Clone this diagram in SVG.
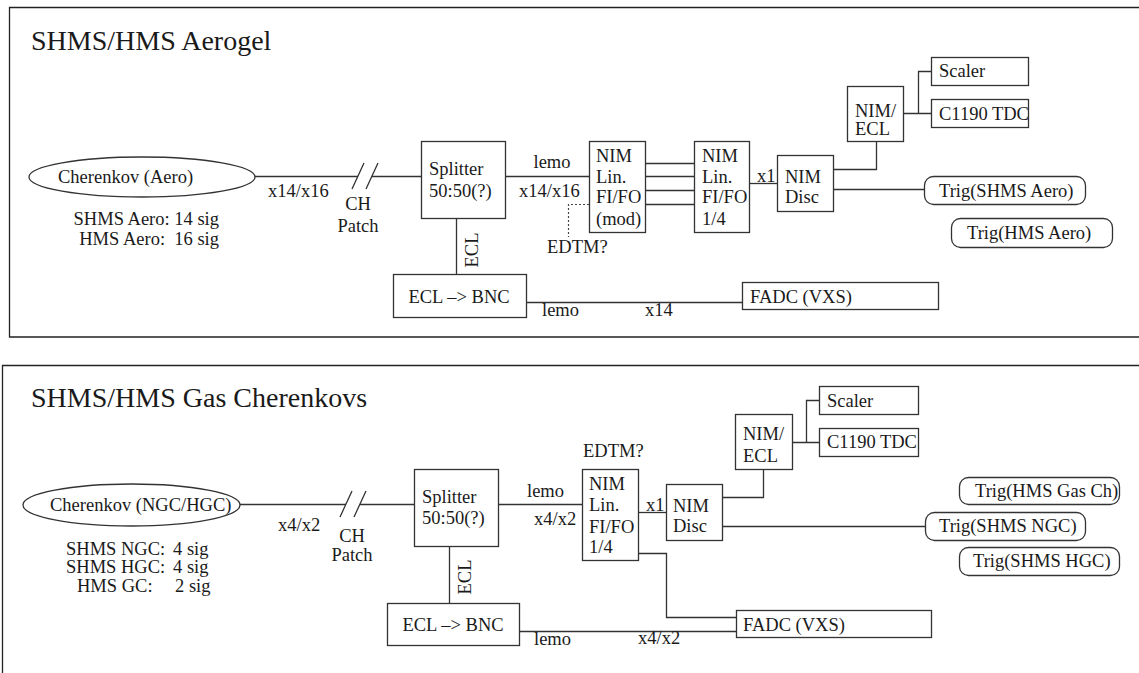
<svg xmlns="http://www.w3.org/2000/svg" width="1139" height="673" viewBox="0 0 1139 673">
<style>
text{font-family:"Liberation Serif","Times New Roman",serif;font-size:18.5px;fill:#1a1a1a}
.t{font-size:28px}
.m{text-anchor:middle}
.e{text-anchor:end}
.b{fill:#fff;stroke:#333;stroke-width:1.3}
.c{fill:none;stroke:#333;stroke-width:1.3}
.d{fill:none;stroke:#444;stroke-width:1.2;stroke-dasharray:2,2}
.f{fill:none;stroke:#222;stroke-width:1.3}
</style>
<rect width="1139" height="673" fill="#fff"/>

<!-- ===== Top panel ===== -->
<g id="panel-aerogel">
<path class="f" d="M1140,7.5 H9.5 V337 H1140"/>
<text class="t" x="31" y="50">SHMS/HMS Aerogel</text>
</g>

<g id="connectors-aerogel">
<path class="c" d="M255,176.5 H358"/>
<path class="c" d="M352,189 L364,163 M366,189 L378,163"/>
<path class="c" d="M372,176.5 H421"/>
<path class="c" d="M505,176.5 H589"/>
<path class="c" d="M645,163.5 H694 M645,176.5 H694 M645,190.5 H694 M645,204.5 H694"/>
<path class="d" d="M589,204.5 H568.5 V237"/>
<path class="c" d="M749,183.5 H777"/>
<path class="c" d="M833,169.5 H876.5 V141"/>
<path class="c" d="M833,189.5 H924"/>
<path class="c" d="M903,113.5 H931 M918.5,113.5 V71.5 H931"/>
<path class="c" d="M456.5,218 V274"/>
<path class="c" d="M526,302.5 H742"/>
<text x="268" y="197">x14/x16</text>
<text class="m" x="358" y="210">CH</text>
<text class="m" x="358" y="232">Patch</text>
<text class="m" x="552" y="168">lemo</text>
<text x="519" y="197">x14/x16</text>
<text x="547" y="253">EDTM?</text>
<text class="m" transform="translate(478,250) rotate(-90)">ECL</text>
<text x="542" y="316">lemo</text>
<text x="645" y="316">x14</text>
<text x="757" y="182">x1</text>
</g>

<g id="aero-cherenkov">
<ellipse class="b" cx="142" cy="177" rx="113" ry="20"/>
<text x="58" y="183">Cherenkov (Aero)</text>
<text class="e" x="219" y="225" xml:space="preserve">SHMS Aero: 14 sig</text>
<text class="e" x="219" y="245" xml:space="preserve">HMS Aero:  16 sig</text>
</g>
<g id="aero-splitter">
<rect class="b" x="421.5" y="141.5" width="84" height="77"/>
<text x="429" y="175">Splitter</text>
<text x="429" y="197">50:50(?)</text>
</g>
<g id="aero-nim-fifo-mod">
<rect class="b" x="589.5" y="141.5" width="56" height="91"/>
<text x="596" y="162">NIM</text>
<text x="596" y="183">Lin.</text>
<text x="596" y="203">FI/FO</text>
<text x="596" y="225">(mod)</text>
</g>
<g id="aero-nim-fifo-quarter">
<rect class="b" x="694.5" y="141.5" width="55" height="91"/>
<text x="702" y="162">NIM</text>
<text x="702" y="183">Lin.</text>
<text x="702" y="203">FI/FO</text>
<text x="702" y="225">1/4</text>
</g>
<g id="aero-nim-disc">
<rect class="b" x="777.5" y="155.5" width="56" height="56"/>
<text x="785" y="183">NIM</text>
<text x="785" y="203">Disc</text>
</g>
<g id="aero-nim-ecl">
<rect class="b" x="847.5" y="86.5" width="56" height="55"/>
<text x="855" y="117">NIM/</text>
<text x="855" y="135">ECL</text>
</g>
<g id="aero-scaler">
<rect class="b" x="931.5" y="57.5" width="97" height="28"/>
<text x="939" y="77">Scaler</text>
</g>
<g id="aero-tdc">
<rect class="b" x="931.5" y="99.5" width="97" height="28"/>
<text x="939" y="120">C1190 TDC</text>
</g>
<g id="aero-trig-shms">
<rect class="b" x="924.5" y="176.5" width="161" height="28" rx="9"/>
<text x="939" y="197">Trig(SHMS Aero)</text>
</g>
<g id="aero-trig-hms">
<rect class="b" x="951.5" y="218.5" width="161" height="29" rx="9"/>
<text x="967" y="239">Trig(HMS Aero)</text>
</g>
<g id="aero-ecl-bnc">
<rect class="b" x="393.5" y="274.5" width="133" height="43"/>
<text class="m" x="459" y="303">ECL –&gt; BNC</text>
</g>
<g id="aero-fadc">
<rect class="b" x="742.5" y="282.5" width="196" height="27"/>
<text x="750" y="303">FADC (VXS)</text>
</g>

<!-- ===== Bottom panel ===== -->
<g id="panel-gas">
<path class="f" d="M1140,365.5 H2.5 V674"/>
<text class="t" x="31" y="407">SHMS/HMS Gas Cherenkovs</text>
</g>

<g id="connectors-gas">
<path class="c" d="M240,504.5 H346"/>
<path class="c" d="M340,517 L352,491 M354,517 L366,491"/>
<path class="c" d="M360,504.5 H414"/>
<path class="c" d="M498,504.5 H582"/>
<path class="c" d="M638,512.5 H666"/>
<path class="c" d="M722,497.5 H763.5 V469"/>
<path class="c" d="M792,442.5 H819 M806.5,442.5 V400.5 H819"/>
<path class="c" d="M722,526.5 H925"/>
<path class="c" d="M638,553.5 H666.5 V617.5 H736"/>
<path class="c" d="M449.5,546 V603"/>
<path class="c" d="M519,631.5 H736"/>
<text x="278" y="531">x4/x2</text>
<text class="m" x="352" y="542">CH</text>
<text class="m" x="352" y="561">Patch</text>
<text x="527" y="497">lemo</text>
<text x="534" y="525">x4/x2</text>
<text x="583" y="457">EDTM?</text>
<text x="646" y="511">x1</text>
<text class="m" transform="translate(471,577) rotate(-90)">ECL</text>
<text x="534" y="645">lemo</text>
<text x="638" y="644">x4/x2</text>
</g>

<g id="gas-cherenkov">
<ellipse class="b" cx="131.5" cy="505" rx="108.5" ry="21"/>
<text x="50" y="511">Cherenkov (NGC/HGC)</text>
<text x="66" y="555">SHMS NGC:</text><text x="173" y="555">4 sig</text>
<text x="66" y="573">SHMS HGC:</text><text x="173" y="573">4 sig</text>
<text x="77" y="592">HMS GC:</text><text x="175" y="592">2 sig</text>
</g>
<g id="gas-splitter">
<rect class="b" x="414.5" y="469.5" width="84" height="77"/>
<text x="422" y="503">Splitter</text>
<text x="422" y="524">50:50(?)</text>
</g>
<g id="gas-nim-fifo">
<rect class="b" x="582.5" y="469.5" width="56" height="91"/>
<text x="589" y="490">NIM</text>
<text x="589" y="511">Lin.</text>
<text x="589" y="533">FI/FO</text>
<text x="589" y="553">1/4</text>
</g>
<g id="gas-nim-disc">
<rect class="b" x="666.5" y="484.5" width="56" height="56"/>
<text x="673" y="512">NIM</text>
<text x="673" y="532">Disc</text>
</g>
<g id="gas-nim-ecl">
<rect class="b" x="735.5" y="414.5" width="57" height="55"/>
<text x="743" y="440">NIM/</text>
<text x="743" y="462">ECL</text>
</g>
<g id="gas-scaler">
<rect class="b" x="819.5" y="386.5" width="99" height="28"/>
<text x="827" y="407">Scaler</text>
</g>
<g id="gas-tdc">
<rect class="b" x="819.5" y="428.5" width="99" height="28"/>
<text x="827" y="448">C1190 TDC</text>
</g>
<g id="gas-trig-hms">
<rect class="b" x="959.5" y="477.5" width="160" height="27" rx="9"/>
<text x="975" y="497">Trig(HMS Gas Ch)</text>
</g>
<g id="gas-trig-shms-ngc">
<rect class="b" x="925.5" y="512.5" width="160" height="28" rx="9"/>
<text x="939" y="532">Trig(SHMS NGC)</text>
</g>
<g id="gas-trig-shms-hgc">
<rect class="b" x="959.5" y="547.5" width="160" height="28" rx="9"/>
<text x="973" y="567">Trig(SHMS HGC)</text>
</g>
<g id="gas-ecl-bnc">
<rect class="b" x="387.5" y="603.5" width="132" height="42"/>
<text class="m" x="453" y="631">ECL –&gt; BNC</text>
</g>
<g id="gas-fadc">
<rect class="b" x="736.5" y="610.5" width="195" height="27"/>
<text x="743" y="631">FADC (VXS)</text>
</g>
</svg>
